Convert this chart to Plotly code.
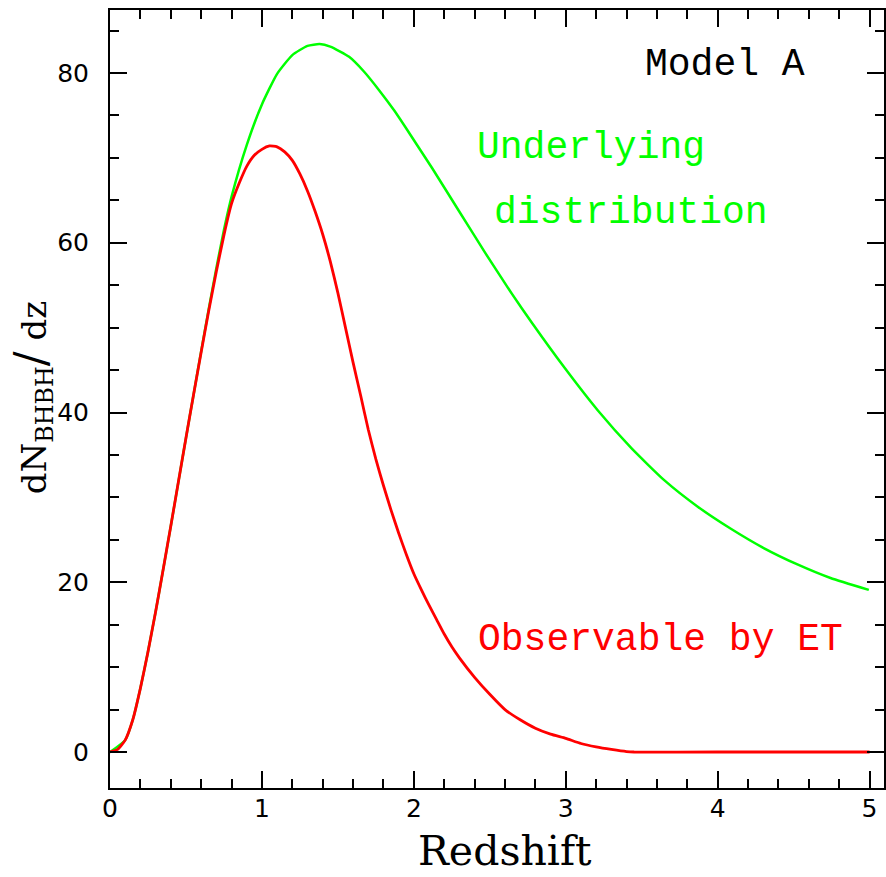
import plotly.graph_objects as go

# Observable by ET (red)
z_obs = [0.0, 0.05, 0.10, 0.15, 0.20, 0.25, 0.30, 0.35, 0.40, 0.45, 0.50, 0.55, 0.60,
         0.65, 0.70, 0.75, 0.80, 0.85, 0.90, 0.95, 1.00, 1.05, 1.10, 1.15, 1.20,
         1.25, 1.30, 1.35, 1.40, 1.45, 1.50, 1.55, 1.60, 1.65, 1.70, 1.75, 1.80,
         1.85, 1.90, 1.95, 2.00, 2.05, 2.10, 2.15, 2.20, 2.25, 2.30, 2.40, 2.50,
         2.60, 2.70, 2.80, 2.90, 3.00, 3.10, 3.20, 3.30, 3.40, 3.45, 4.0, 4.5, 5.0]
n_obs = [0.0, 0.3, 1.4, 3.8, 7.5, 11.8, 16.5, 21.5, 26.6, 31.8, 37.0, 42.1, 47.1,
         52.0, 56.6, 60.9, 64.6, 67.0, 69.0, 70.3, 71.0, 71.4, 71.3, 70.7, 69.7,
         68.1, 66.1, 63.7, 61.0, 57.8, 54.1, 50.0, 45.9, 42.0, 38.0, 34.5, 31.4,
         28.5, 25.8, 23.3, 21.0, 19.1, 17.3, 15.6, 13.9, 12.4, 11.1, 8.8, 6.8,
         5.0, 3.8, 2.8, 2.1, 1.6, 1.0, 0.6, 0.3, 0.05, 0.0, 0.0, 0.0, 0.0]

# Underlying distribution (green)
z_und = [0.0, 0.10, 0.15, 0.20, 0.25, 0.30, 0.35, 0.40, 0.45, 0.50, 0.55, 0.60,
         0.65, 0.70, 0.75, 0.80, 0.90, 1.00, 1.10, 1.20, 1.30, 1.38, 1.45, 1.574,
         1.67, 1.77, 1.87, 1.945, 2.12, 2.295, 2.47, 2.645, 2.776, 2.995, 3.213,
         3.432, 3.65, 3.869, 4.087, 4.306, 4.525, 4.743, 4.995]
n_und = [0.0, 1.4, 3.8, 7.5, 11.8, 16.5, 21.5, 26.6, 31.8, 37.0, 42.1, 47.2,
         52.2, 57.0, 61.5, 65.4, 71.5, 76.3, 79.9, 82.1, 83.2, 83.4, 83.1, 81.9,
         80.2, 78.0, 75.6, 73.6, 68.8, 63.8, 58.8, 54.0, 50.6, 45.2, 40.2,
         35.8, 32.0, 28.9, 26.3, 24.0, 22.1, 20.5, 19.1]

x_ticks = [0, 1, 2, 3, 4, 5]
y_ticks = [0, 20, 40, 60, 80]

fig = go.Figure()
fig.add_trace(go.Scatter(x=z_und, y=n_und, mode="lines",
                         line=dict(color="#00ff00", width=2.5, shape="spline", smoothing=0.5),
                         showlegend=False))
fig.add_trace(go.Scatter(x=z_obs, y=n_obs, mode="lines",
                         line=dict(color="#ff0000", width=2.8, shape="spline", smoothing=0.5),
                         showlegend=False))

axis_common = dict(
    ticks="inside", ticklen=17, tickwidth=2, tickcolor="black",
    showline=True, linewidth=2, linecolor="black", mirror="allticks",
    showgrid=False, zeroline=False,
    tickfont=dict(family="DejaVu Sans", size=25, color="black"),
)

fig.update_xaxes(range=[0, 5.095], tickvals=x_ticks, ticktext=[str(v) for v in x_ticks],
                 minor=dict(dtick=0.2, tick0=0, ticks="inside", ticklen=9, tickwidth=2,
                            tickcolor="black", showgrid=False),
                 ticklabelstandoff=-3, **axis_common)
fig.update_yaxes(range=[-4.24, 87.42], tickvals=y_ticks, ticktext=[str(v) for v in y_ticks],
                 minor=dict(dtick=5, tick0=0, ticks="inside", ticklen=9, tickwidth=2,
                            tickcolor="black", showgrid=False),
                 ticklabelstandoff=14, **axis_common)

W, H = 886, 877
L, R, T, B = 110, 0, 10, 89
pw, ph = W - L - R, H - T - B

def px(xp):
    return (xp - L) / pw

def py(yp):
    return (H - B - yp) / ph

mono = "Liberation Mono"
serif = "DejaVu Serif"
annots = [
    dict(text="Model A", x=px(727), y=py(64), color="black"),
    dict(text="Underlying", x=px(592), y=py(147), color="#00ff00"),
    dict(text="distribution", x=px(632), y=py(213), color="#00ff00"),
    dict(text="Observable by ET", x=px(662), y=py(639), color="#ff0000"),
]
for a in annots:
    fig.add_annotation(text=a["text"], x=a["x"], y=a["y"], xref="paper", yref="paper",
                       showarrow=False, xanchor="center", yanchor="middle",
                       font=dict(family=mono, size=38, color=a["color"]))

fig.add_annotation(text="Redshift", x=px(506), y=py(851), xref="paper", yref="paper",
                   showarrow=False, xanchor="center", yanchor="middle",
                   font=dict(family=serif, size=41, color="black"))
fig.add_annotation(text="dN<sub>BHBH</sub><span style='font-size:44px'>/</span> dz",
                   x=px(32), y=py(398), xref="paper", yref="paper",
                   showarrow=False, xanchor="center", yanchor="middle", textangle=-90,
                   font=dict(family=serif, size=34, color="black"))

fig.update_layout(width=W, height=H, margin=dict(l=L, r=R, t=T, b=B),
                  plot_bgcolor="white", paper_bgcolor="white")

fig.write_html("out.html")
